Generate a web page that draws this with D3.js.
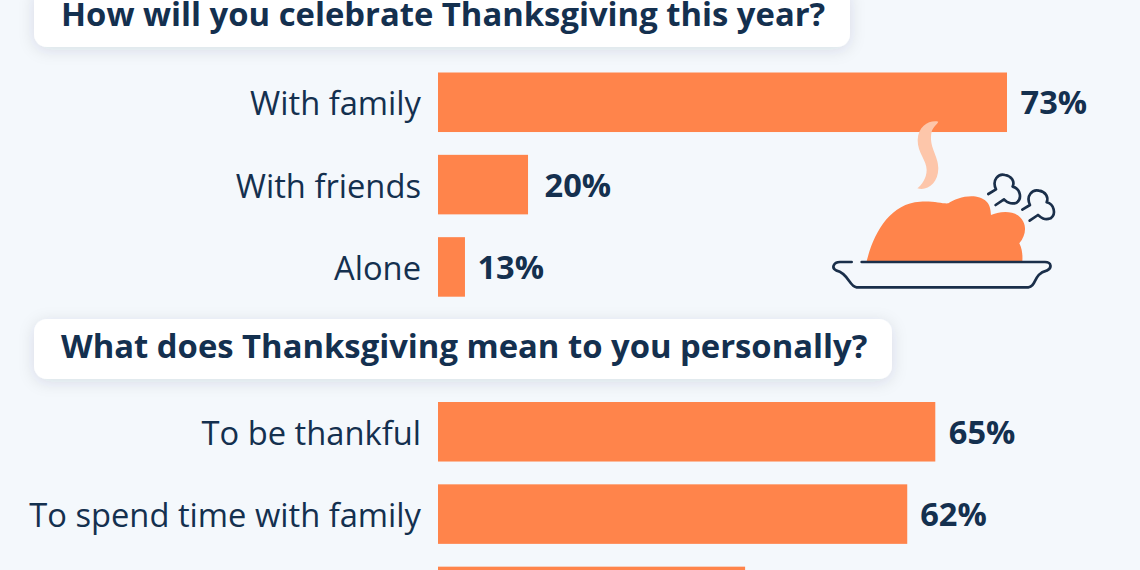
<!DOCTYPE html>
<html><head><meta charset="utf-8">
<script src="https://cdn.jsdelivr.net/npm/d3@7"></script>
<style>html,body{margin:0;padding:0;background:#f4f8fc;overflow:hidden}svg{display:block}text{font-family:"Open Sans",sans-serif}</style>
</head><body><svg id="c" width="1140" height="570"></svg>
<script>
// Titles
const titleOne = "How will you celebrate Thanksgiving this year?";
const titleTwo = "What does Thanksgiving mean to you personally?";
// First panel
const categoriesOne = ["With family", "With friends", "Alone"];
const labelsOne = ["73%", "20%", "13%"];
const barLengthsOne = [73, 11.55, 3.46];   // bar lengths as drawn in the picture
// Second panel (third row is cut off by the bottom edge: only its bar's top is visible)
const categoriesTwo = ["To be thankful", "To spend time with family", ""];
const labelsTwo = ["65%", "62%", ""];
const barLengthsTwo = [63.8, 60.2, 39.4];

const ink = "#14304f", orange = "#ff844b";
const svg = d3.select("#c");
const defs = svg.append("defs");
const f = defs.append("filter").attr("id","sh").attr("x","-5%").attr("y","-40%").attr("width","110%").attr("height","190%");
f.append("feDropShadow").attr("dx",0).attr("dy",3).attr("stdDeviation",8).attr("flood-color","#1a3050").attr("flood-opacity",0.12);

const x = d3.scaleLinear().domain([0,73]).range([438,1007]);

function panel(title, boxY, boxW, cats, labels, vals, top, gaps){
  const y = d3.scaleBand().domain(cats).range([top, top+224.2]).paddingInner(0.277);
  svg.append("rect").attr("x",34).attr("y",boxY).attr("width",boxW).attr("height",60).attr("rx",13)
    .attr("fill","#fff").attr("filter","url(#sh)");
  svg.append("text").attr("x",61).attr("y",boxY+39).attr("font-size",32.8).attr("font-weight",700).attr("fill",ink).text(title);
  const rows = svg.append("g").selectAll("g").data(cats).join("g");
  rows.append("rect").attr("x",x(0)).attr("y",d=>y(d)).attr("height",y.bandwidth())
    .attr("width",(d,i)=>x(vals[i])-x(0)).attr("fill",orange);
  rows.append("text").attr("x",x(0)-17).attr("y",d=>y(d)+y.bandwidth()/2+13).attr("text-anchor","end")
    .attr("font-size",32.7).attr("fill",ink).text(d=>d);
  rows.append("text").attr("x",(d,i)=>x(vals[i])+gaps[i]).attr("y",d=>y(d)+y.bandwidth()/2+12)
    .attr("font-size",32.6).attr("font-weight",700).attr("fill",ink).text((d,i)=>labels[i]);
}
panel(titleOne,-13,816,categoriesOne,labelsOne,barLengthsOne,72.5,[13.5,16.5,12.5]);
panel(titleTwo,319,858,categoriesTwo,labelsTwo,barLengthsTwo,402,[13.5,13,13]);

// Turkey illustration
const t = svg.append("g").attr("transform","translate(820,110) scale(0.3333)");
t.append("path").attr("fill","#fdc6aa").attr("d","M355,35 C330,30 295,45 293,90 C293,130 320,150 320,180 C320,205 305,225 292,235 C320,245 355,220 355,175 C355,135 325,110 335,65 C340,50 350,45 355,35Z");
t.append("path").attr("fill",orange).attr("d","M140,454 C160,370 210,280 300,275 C340,272 370,282 385,280 C410,262 470,245 500,275 C510,285 512,300 513,315 C535,305 590,295 610,335 C620,355 615,380 598,400 C608,420 608,440 607,454Z");
const st = {fill:"none",stroke:"#1a2f4a","stroke-width":8,"stroke-linecap":"round","stroke-linejoin":"round"};
const sp = p => { const e=t.append("path").attr("d",p); Object.entries(st).forEach(([k,v])=>e.attr(k,v)); return e; };
sp("M95,456 L60,456 C40,456 33,475 50,482 C85,490 88,530 110,532 L625,532 C650,530 640,490 680,482 C697,475 695,456 675,456 L125,456");
const stick = "M505,252 L528,238 C515,210 535,190 555,195 C575,198 585,215 578,230 C600,235 608,265 590,278 C570,285 560,275 552,268 L527,285";
sp(stick);
sp(stick).attr("transform","translate(102,47)");
</script></body></html>
